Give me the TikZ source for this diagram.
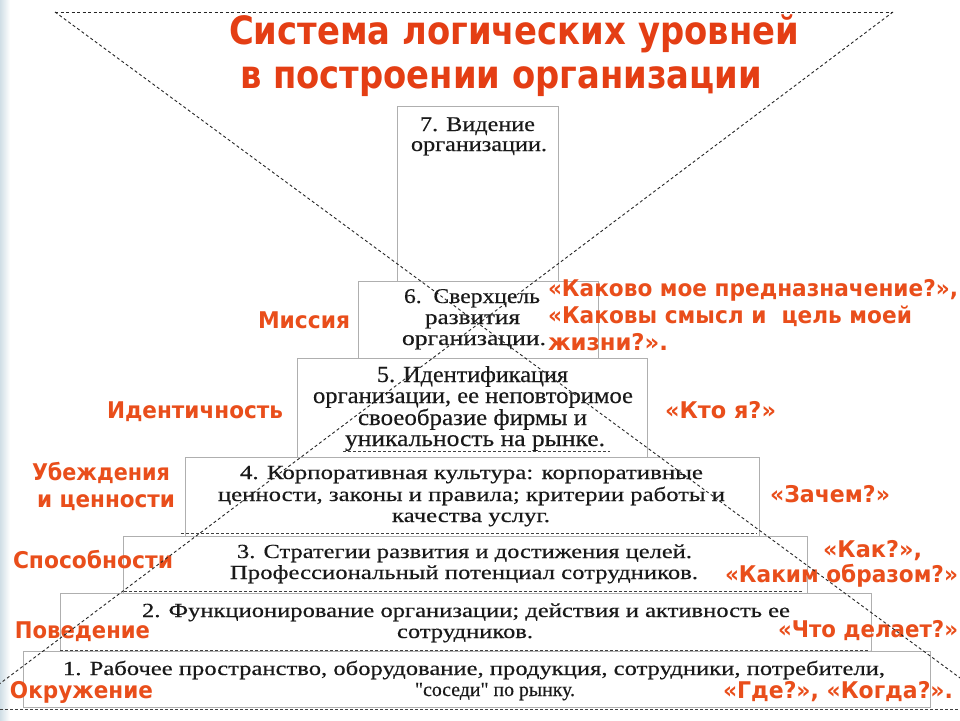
\documentclass[tikz,border=0pt]{standalone}
\usepackage{graphicx}
\usepackage{fontspec}
\setmainfont{Liberation Serif}
\newfontfamily\boxfont[FakeBold=0.35]{Liberation Serif}
\newfontfamily\labfont{DejaVu Sans}
\definecolor{labc}{RGB}{233,78,27}
\definecolor{titc}{RGB}{228,62,20}
\definecolor{boxc}{RGB}{175,175,175}
\definecolor{stripc}{RGB}{208,222,230}
\newcommand\fitw[2]{\resizebox{#1pt}{\height}{#2}}
\tikzset{
  lvbox/.style={draw=boxc, line width=0.9pt, fill=white, inner sep=0pt, minimum width=#1},
  ln/.style={anchor=base west, inner sep=0pt, outer sep=0pt},
  bt/.style={ln, text=black!90},
  lab/.style={ln, text=labc, font=\labfont\bfseries\fontsize{23}{23}\selectfont},
  tit/.style={ln, text=titc, font=\labfont\bfseries\fontsize{39}{39}\selectfont},
  xline/.style={draw=black!85, line width=0.9pt, dash pattern=on 3pt off 2.5pt},
  hline/.style={draw=black!75, line width=0.8pt, dash pattern=on 3pt off 2pt}
}
\begin{document}
\begin{tikzpicture}[x=1pt,y=-1pt]
\useasboundingbox (0,0) rectangle (960,720);
\fill[white] (0,0) rectangle (960,720);
\shade[left color=stripc, right color=white] (0,0) rectangle (10,720);

% level boxes
\node[lvbox=161pt, minimum height=175pt] (b7) at (477.5,193.5) {};
\node[lvbox=240pt, minimum height=77pt] (b6) at (478,319.5) {};
\node[lvbox=350pt, minimum height=99pt] (b5) at (472,407.5) {};
\node[lvbox=574pt, minimum height=79pt] (b4) at (472,496.5) {};
\node[lvbox=684pt, minimum height=57pt] (b3) at (465,564.5) {};
\node[lvbox=811pt, minimum height=58pt] (b2) at (465.5,622) {};
\node[lvbox=907pt, minimum height=56pt] (b1) at (476.5,679) {};

% box texts
\begin{scope}[every node/.append style={font=\boxfont\fontsize{21}{21}\selectfont}]
\node[bt] (t7a) at (420,131) {\fitw{115}{7. Видение}};
\node[bt] (t7b) at (411,151) {\fitw{136}{организации.}};
\node[bt] (t6a) at (404,303) {\fitw{136}{6.\ \ Сверхцель}};
\node[bt] (t6b) at (425,324) {\fitw{95}{развития}};
\node[bt] (t6c) at (402,345) {\fitw{144}{организации.}};
\end{scope}
\begin{scope}[every node/.append style={font=\boxfont\fontsize{23}{23}\selectfont}]
\node[bt] (t5a) at (377,382) {\fitw{191}{5. Идентификация}};
\node[bt] (t5b) at (313,403) {\fitw{320}{организации, ее неповторимое}};
\node[bt] (t5c) at (358,425) {\fitw{229}{своеобразие фирмы и}};
\node[bt] (t5d) at (345,446) {\fitw{260}{уникальность на рынке.}};
\end{scope}
\begin{scope}[every node/.append style={font=\boxfont\fontsize{20}{20}\selectfont}]
\node[bt] (t4a) at (240,479) {\fitw{463}{4. Корпоративная культура: корпоративные}};
\node[bt] (t4b) at (218,501) {\fitw{507}{ценности, законы и правила; критерии работы и}};
\node[bt] (t4c) at (392,522) {\fitw{158}{качества услуг.}};
\node[bt] (t3a) at (237,558) {\fitw{455}{3. Стратегии развития и достижения целей.}};
\node[bt] (t3b) at (230,579) {\fitw{468}{Профессиональный потенциал сотрудников.}};
\node[bt] (t2a) at (142,617) {\fitw{648}{2. Функционирование организации; действия и активность ее}};
\node[bt] (t2b) at (397,638) {\fitw{136}{сотрудников.}};
\node[bt] (t1a) at (63,675) {\fitw{822}{1. Рабочее пространство, оборудование, продукция, сотрудники, потребители,}};
\node[bt] (t1b) at (415,696) {\fitw{160}{"соседи" по рынку.}};
\end{scope}

% dashed underlines of the levels
\coordinate (u5l) at (343,451); \coordinate (u5r) at (610,451);
\coordinate (u4l) at (181,533); \coordinate (u4r) at (757,533);
\coordinate (u3l) at (124,591); \coordinate (u3r) at (802,591);
\coordinate (u2l) at (60,650);  \coordinate (u2r) at (870,650);
\coordinate (u1l) at (0,709);   \coordinate (u1r) at (960,709);
\draw[hline] (u5l) -- (u5r);
\draw[hline] (u4l) -- (u4r);
\draw[hline] (u3l) -- (u3r);
\draw[hline] (u2l) -- (u2r);
\draw[hline] (u1l) -- (u1r);

% title
\node[tit] (ti1) at (229,44) {\fitw{570}{Система логических уровней}};
\node[tit] (ti2) at (240,88) {\fitw{522}{в построении организации}};

% left labels
\node[lab] (l6) at (258,328) {\fitw{92}{Миссия}};
\node[lab] (l5) at (107,418) {\fitw{176}{Идентичность}};
\node[lab] (l4a) at (32,480) {\fitw{138}{Убеждения}};
\node[lab] (l4b) at (37,507) {\fitw{138}{и ценности}};
\node[lab] (l3) at (13,568) {\fitw{160}{Способности}};
\node[lab] (l2) at (15,638) {\fitw{135}{Поведение}};
\node[lab] (l1) at (10,698) {\fitw{143}{Окружение}};

% right labels
\node[lab] (r6a) at (548,296) {\fitw{410}{«Каково мое предназначение?»,}};
\node[lab] (r6b) at (548,323) {\fitw{364}{«Каковы смысл и\ \ цель моей}};
\node[lab] (r6c) at (548,350) {\fitw{120}{жизни?».}};
\node[lab] (r5) at (665,418) {\fitw{111}{«Кто я?»}};
\node[lab] (r4) at (770,502) {\fitw{120}{«Зачем?»}};
\node[lab] (r3a) at (823,557) {\fitw{99}{«Как?»,}};
\node[lab] (r3b) at (725,582) {\fitw{233}{«Каким образом?»}};
\node[lab] (r2) at (778,637) {\fitw{180}{«Что делает?»}};
\node[lab] (r1) at (723,698) {\fitw{230}{«Где?», «Когда?».}};

% hourglass dashed lines
\coordinate (tl) at (55,12);
\coordinate (tr) at (893,12);
\coordinate (brx) at (990,700);
\coordinate (blx) at (-10,691);
\draw[xline] (tl) -- (tr);
\draw[xline] (tl) -- (brx);
\draw[xline] (tr) -- (blx);
\end{tikzpicture}
\end{document}
